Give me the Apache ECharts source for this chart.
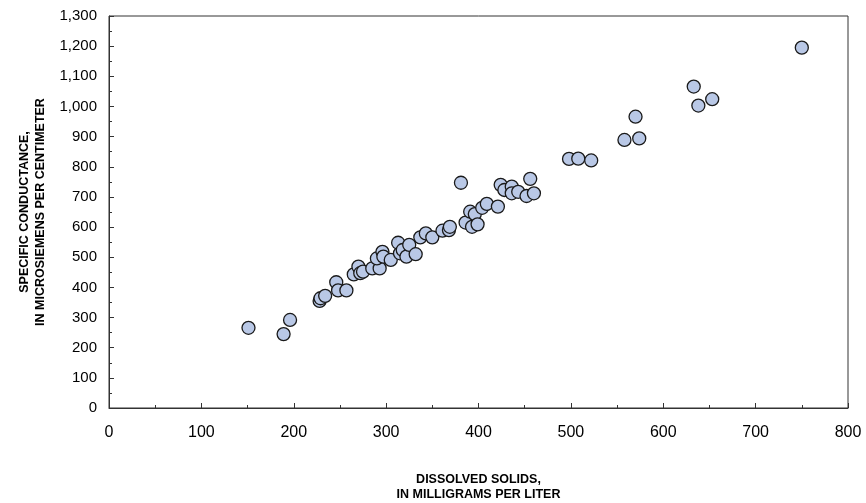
<!DOCTYPE html>
<html><head><meta charset="utf-8">
<script src="https://cdn.jsdelivr.net/npm/echarts@6/dist/echarts.min.js"></script>
<style>html,body{margin:0;padding:0;background:#fff}#c{width:866px;height:503px}</style>
</head><body><div id="c"></div>
<script>
const dissolvedSolids = [151,189,196,228,229,234,246,248,257,265,270,272,275,285,293,290,296,297,305,313,315,318,322,325,332,337,343,350,361,368,369,381,386,391,393,396,399,404,409,421,424,428,436,436,443,452,456,460,498,508,522,558,570,574,633,638,653,750];
const specificConductance = [266,245,292,355,364,372,417,390,390,443,469,447,452,463,463,496,518,502,491,548,513,524,502,541,510,566,579,566,588,590,601,747,615,651,601,643,609,664,677,668,740,723,734,712,717,703,760,712,826,827,821,889,966,894,1066,1003,1024,1195];
const xTitle = 'DISSOLVED SOLIDS,\nIN MILLIGRAMS PER LITER';
const yTitle = 'SPECIFIC CONDUCTANCE,\nIN MICROSIEMENS PER CENTIMETER';

const points = dissolvedSolids.map((x, i) => [x, specificConductance[i]]);
const chart = echarts.init(document.getElementById('c'), null, {renderer: 'canvas'});
const font = 'Liberation Sans, Arial, sans-serif';
chart.setOption({
  animation: false,
  grid: {left: 109, right: 18, top: 16, bottom: 95, outerBoundsMode: 'none', containLabel: false,
    show: true, borderColor: '#333', borderWidth: 1, backgroundColor: 'transparent'},
  xAxis: {
    type: 'value', min: 0, max: 800, interval: 100,
    name: xTitle, nameLocation: 'middle', nameGap: 64,
    nameTextStyle: {fontFamily: font, fontWeight: 'bold', fontSize: 12.5, color: '#000', lineHeight: 15},
    axisLine: {show: true, lineStyle: {color: '#333', width: 1}},
    axisTick: {show: true, inside: true, length: 5, lineStyle: {color: '#333'}},
    minorTick: {show: true, splitNumber: 2, length: 3, lineStyle: {color: '#333'}},
    splitLine: {show: false},
    axisLabel: {fontFamily: font, fontSize: 16, color: '#000', margin: 17}
  },
  yAxis: {
    type: 'value', min: 0, max: 1300, interval: 100,
    name: yTitle, nameLocation: 'middle', nameGap: 57, nameRotate: 90,
    nameTextStyle: {fontFamily: font, fontWeight: 'bold', fontSize: 12.5, color: '#000', lineHeight: 16},
    axisLine: {show: true, lineStyle: {color: '#333', width: 1}},
    axisTick: {show: true, inside: true, length: 5, lineStyle: {color: '#333'}},
    minorTick: {show: true, splitNumber: 2, length: 3, lineStyle: {color: '#333'}},
    splitLine: {show: false},
    axisLabel: {fontFamily: font, fontSize: 15, color: '#000', margin: 12,
      formatter: v => v.toLocaleString('en-US')}
  },
  series: [{
    type: 'scatter',
    data: points,
    symbol: 'circle',
    symbolSize: 13,
    itemStyle: {color: '#b9c8e6', borderColor: '#1a1a1a', borderWidth: 1.3, opacity: 1}
  }]
});
</script></body></html>
